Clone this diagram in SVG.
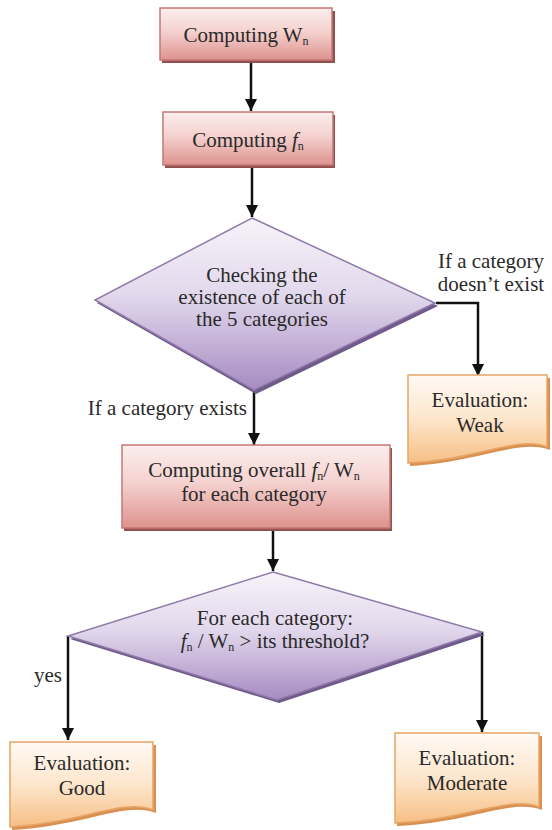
<svg xmlns="http://www.w3.org/2000/svg" width="552" height="830" viewBox="0 0 552 830">
<defs>
<linearGradient id="gRect" x1="0" y1="0" x2="0" y2="1">
<stop offset="0" stop-color="#fbeeed"/>
<stop offset="0.45" stop-color="#f4d2cf"/>
<stop offset="1" stop-color="#de928e"/>
</linearGradient>
<linearGradient id="gDia" x1="0" y1="0" x2="0" y2="1">
<stop offset="0" stop-color="#f6f3f9"/>
<stop offset="0.45" stop-color="#e2d8ec"/>
<stop offset="1" stop-color="#a68bc2"/>
</linearGradient>
<linearGradient id="gDoc" x1="0" y1="0" x2="0" y2="1">
<stop offset="0" stop-color="#fffaf5"/>
<stop offset="0.5" stop-color="#fde6cc"/>
<stop offset="1" stop-color="#f6bf85"/>
</linearGradient>
<marker id="arr" viewBox="0 0 10 10" refX="10" refY="5" markerWidth="5" markerHeight="5" orient="auto" markerUnits="strokeWidth">
<path d="M0,0 L10,5 L0,10 Z" fill="#111"/>
</marker>
</defs>
<style>
.rect{fill:url(#gRect);stroke:#c27a76;stroke-width:1.5}
.rsh{fill:#93504c}
.dia{fill:url(#gDia);stroke:#8f7aa8;stroke-width:1.5}
.dsh{fill:#6f5a8a}
.doc{fill:url(#gDoc);stroke:#e6a566;stroke-width:1.5}
.docsh{fill:#d99050}
text{font-family:'Liberation Serif','DejaVu Serif',serif;font-size:21px;fill:#2a2a2a}
.t{text-anchor:middle}
.sub{font-size:12px}
.conn{fill:none;stroke:#111;stroke-width:2.5;marker-end:url(#arr)}
</style>
<rect width="552" height="830" fill="#ffffff"/>

<g id="connectors">
<path class="conn" d="M251,62 V111"/>
<path class="conn" d="M252,167 V217"/>
<path class="conn" d="M436,303 H478 V376"/>
<path class="conn" d="M254,392 V445"/>
<path class="conn" d="M273,531 V571"/>
<path class="conn" d="M68,636 V740"/>
<path class="conn" d="M482,632 V732"/>
</g>

<g id="n_computing_wn">
<rect class="rsh" x="162" y="11" width="173" height="52"/>
<rect class="rect" x="160" y="8" width="172" height="52"/>
<text class="t" x="246" y="42" font-family="Liberation Serif, serif">Computing W<tspan class="sub" dy="3">n</tspan></text>
</g>

<g id="n_computing_fn">
<rect class="rsh" x="165" y="115" width="170" height="53"/>
<rect class="rect" x="163" y="112" width="170" height="53"/>
<text class="t" x="248" y="147">Computing <tspan font-style="italic">f</tspan><tspan class="sub" dy="3">n</tspan></text>
</g>

<g id="n_check_exist">
<polygon class="dsh" points="254,221 438,306 256,394 97,303"/>
<polygon class="dia" points="252,218 435,303 254,390 95,300"/>
<text class="t" x="262" y="282">Checking the</text>
<text class="t" x="262" y="304">existence of each of</text>
<text class="t" x="262" y="326">the 5 categories</text>
</g>

<g id="n_weak">
<path class="docsh" d="M410,378 H550 V450 C520,438 480,462 410,466 Z"/>
<path class="doc" d="M408,375 H547 V447 C517,435 478,460 408,463 Z"/>
<text class="t" x="480" y="407">Evaluation:</text>
<text class="t" x="480" y="432">Weak</text>
</g>

<g id="n_overall">
<rect class="rsh" x="124" y="448" width="268" height="83"/>
<rect class="rect" x="122" y="445" width="268" height="83"/>
<text class="t" x="254" y="477">Computing overall <tspan font-style="italic">f</tspan><tspan class="sub" dy="3">n</tspan><tspan dy="-3">/ W</tspan><tspan class="sub" dy="3">n</tspan></text>
<text class="t" x="254" y="501">for each category</text>
</g>

<g id="n_threshold">
<polygon class="dsh" points="275,575 485,635 279,703 70,639"/>
<polygon class="dia" points="273,572 482,632 277,700 68,636"/>
<text class="t" x="275" y="625">For each category:</text>
<text class="t" x="275" y="648"><tspan font-style="italic">f</tspan><tspan class="sub" dy="3">n</tspan><tspan dy="-3"> / W</tspan><tspan class="sub" dy="3">n</tspan><tspan dy="-3"> &gt; its threshold?</tspan></text>
</g>

<g id="n_good">
<path class="docsh" d="M12,745 H156 V813 C125,801 85,826 12,830 Z"/>
<path class="doc" d="M10,742 H153 V810 C122,798 82,823 10,827 Z"/>
<text class="t" x="82" y="770">Evaluation:</text>
<text class="t" x="82" y="795">Good</text>
</g>

<g id="n_moderate">
<path class="docsh" d="M397,736 H542 V810 C512,798 470,823 397,826 Z"/>
<path class="doc" d="M395,733 H539 V807 C509,795 467,820 395,823 Z"/>
<text class="t" x="467" y="765">Evaluation:</text>
<text class="t" x="467" y="790">Moderate</text>
</g>

<g id="labels">
<text class="t" x="491" y="268">If a category</text>
<text class="t" x="491" y="291">doesn’t exist</text>
<text x="247" y="415" text-anchor="end">If a category exists</text>
<text x="62" y="682" text-anchor="end">yes</text>
</g>
</svg>
